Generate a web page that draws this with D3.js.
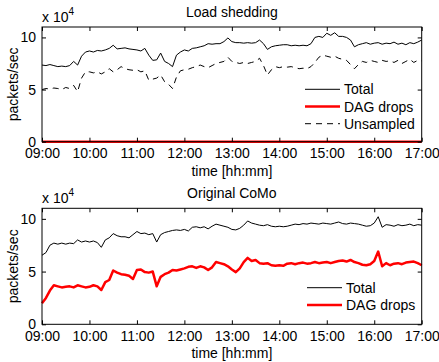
<!DOCTYPE html>
<html><head><meta charset="utf-8">
<script src="https://cdn.jsdelivr.net/npm/d3@7/dist/d3.min.js"></script>
<style>
body{margin:0;background:#fff;}
svg{display:block;}
text{font-family:"Liberation Sans",Arial,Helvetica,sans-serif;fill:#000;}
</style></head>
<body><svg id="c" width="439" height="362"></svg>
<script>
// time in hours after 09:00, 5-minute sampling
const hourTicks = [0,1,2,3,4,5,6,7,8];
const tickLabels = ["09:00","10:00","11:00","12:00","13:00","14:00","15:00","16:00","17:00"];
const yTicks = [0,5,10];

// Load shedding (x 10^4 packets/sec)
const lsTotal = [7.35,7.3,7.4,7.3,7.2,7.25,7.2,7.3,7.7,7.35,8.2,8.6,
 8.7,8.6,8.75,8.7,8.8,8.95,9.25,8.9,8.95,9.0,8.9,8.85,8.8,
 8.7,8.95,8.3,7.8,7.85,8.5,7.7,7.5,7.2,8.3,
 8.6,8.8,8.7,8.95,9.0,9.1,9.2,9.4,9.35,9.4,
 9.4,9.6,9.95,9.6,9.5,9.5,9.45,9.5,9.45,9.5,
 9.75,9.4,8.85,9.1,9.2,9.25,9.3,9.3,9.2,9.25,
 9.2,9.25,9.2,9.4,10.0,10.1,10.0,10.4,10.2,10.45,10.1,10.1,10.0,9.75,
 9.1,9.3,9.4,9.5,9.35,9.45,9.5,9.35,9.45,9.4,
 9.55,9.35,9.45,9.3,9.5,9.4,9.55,9.75];
const lsDrops = [0,0,0,0,0,0,0,0,0,0,0,0,0,0,0,0,0,0,0,0,0,0,0,0,0,
 0,0,0,0,0,0,0,0,0,0,0,0,0,0,0,0,0,0,0,0,0,0,0,0,0,
 0,0,0,0,0,0,0,0,0,0,0,0,0,0,0,0,0,0,0,0,0,0,0,0,0,
 0,0,0,0,0,0,0,0,0,0,0,0,0,0,0,0,0,0,0,0,0,0];
const lsUnsampled = [5.0,5.1,5.05,5.15,5.1,5.0,5.2,5.1,5.4,4.8,6.1,6.7,
 6.7,6.6,6.7,6.5,6.7,7.0,6.7,6.9,7.2,7.0,6.9,6.85,6.9,
 6.7,6.8,5.9,6.0,6.1,6.4,5.75,5.5,5.1,6.2,
 6.8,6.9,6.95,7.1,7.2,7.35,7.2,7.1,7.3,7.5,
 7.6,7.7,8.1,7.7,7.6,7.5,7.6,7.5,7.6,7.7,
 8.0,7.3,6.4,6.9,7.2,7.1,7.2,7.15,7.2,7.1,
 7.0,7.05,7.0,7.2,7.6,8.1,8.3,8.2,8.1,8.2,8.0,7.9,7.8,7.4,
 7.0,7.4,7.7,7.6,7.8,7.7,7.6,7.8,7.7,7.75,
 7.6,7.8,7.5,7.7,7.9,7.6,7.8,7.75];

// Original CoMo (x 10^4 packets/sec)
const ocTotal = [6.55,6.8,7.5,7.7,7.6,7.7,7.6,7.7,7.65,8.0,7.8,7.9,7.8,7.9,
 7.75,7.3,8.0,8.2,8.6,8.4,8.3,8.3,8.2,8.5,8.8,8.6,8.65,8.5,8.6,
 7.8,8.5,8.7,8.8,8.9,8.95,8.9,9.0,8.85,9.2,9.25,9.15,9.25,9.05,9.3,
 9.5,9.4,9.3,9.2,9.0,8.95,9.1,9.4,9.8,9.6,9.5,9.4,9.35,9.45,9.3,
 9.25,9.3,9.25,9.3,9.4,9.5,9.45,9.55,9.5,9.6,9.55,9.5,9.6,9.55,9.5,
 9.6,9.7,9.55,9.5,9.6,9.55,9.5,9.4,9.3,9.35,9.6,10.2,9.2,9.45,9.4,
 9.3,9.45,9.35,9.4,9.5,9.35,9.45,9.4];
const ocDrops = [2.0,2.5,3.2,3.7,3.6,3.5,3.55,3.6,3.5,3.7,3.6,3.5,3.55,3.7,
 3.6,3.25,4.0,4.2,5.1,4.9,4.75,4.7,4.6,4.3,5.15,5.2,4.95,4.9,5.0,
 3.6,4.5,4.75,4.9,5.15,5.1,5.2,5.3,5.45,5.5,5.35,5.5,5.4,5.15,5.4,
 5.9,5.8,5.7,5.5,5.2,4.95,5.3,5.9,6.3,6.0,6.1,5.8,5.75,5.8,5.6,
 5.55,5.6,5.55,5.75,5.8,5.7,5.8,5.85,5.75,5.8,5.9,5.8,5.85,5.9,5.8,
 5.9,6.0,6.05,5.95,6.1,5.9,5.8,5.65,5.6,5.7,6.0,6.9,5.5,5.8,5.6,
 5.75,5.8,5.7,5.85,5.9,5.95,5.8,5.6];

const times = lsTotal.map((d,i)=>i*5/60);

const svg = d3.select("#c");
const X0 = 42, X1 = 421.7;

function panel(cfg){
  const x = d3.scaleLinear().domain([0,8]).range([X0,X1]);
  const y = d3.scaleLinear().domain([0,11]).range([cfg.bottom,cfg.top]);
  const g = svg.append("g");
  const line = d3.line().x((d,i)=>x(times[i])).y(d=>y(d));

  cfg.series.forEach(s=>{
    g.append("path").datum(s.values).attr("d",line)
      .attr("fill","none").attr("stroke",s.color).attr("stroke-width",s.width)
      .attr("stroke-dasharray",s.dash||null).attr("stroke-linejoin","round");
  });

  const tl = 4;
  const xb = d3.axisBottom(x).tickValues(hourTicks).tickFormat((d,i)=>tickLabels[i]).tickSizeInner(-tl).tickSizeOuter(0).tickPadding(6.5);
  const xt = d3.axisTop(x).tickValues(hourTicks).tickFormat("").tickSizeInner(-tl).tickSizeOuter(0);
  const yl = d3.axisLeft(y).tickValues(yTicks).tickSizeInner(-tl).tickSizeOuter(0).tickPadding(6);
  const yr = d3.axisRight(y).tickValues(yTicks).tickFormat("").tickSizeInner(-tl).tickSizeOuter(0);
  [[xb,`translate(0,${cfg.bottom})`],[xt,`translate(0,${cfg.top})`],[yl,`translate(${X0},0)`],[yr,`translate(${X1},0)`]].forEach(([a,t])=>{
    const ax = g.append("g").attr("transform",t).call(a);
    ax.select(".domain").remove();
    ax.selectAll("line").attr("stroke","#000").attr("stroke-width",1);
    ax.selectAll("text").style("font-size","14px").style("font-family",'"Liberation Sans",Arial,sans-serif').attr("fill","#000");
  });
  g.append("rect").attr("x",X0).attr("y",cfg.top).attr("width",X1-X0).attr("height",cfg.bottom-cfg.top)
    .attr("fill","none").attr("stroke","#000").attr("stroke-width",1);

  g.append("text").attr("x",(X0+X1)/2).attr("y",cfg.top-10).attr("text-anchor","middle").style("font-size","14px").text(cfg.title);
  const ex = g.append("text").attr("x",X0).attr("y",cfg.top-5).style("font-size","14px");
  ex.append("tspan").text("x 10");
  ex.append("tspan").attr("dy",-7).style("font-size","10px").text("4");
  g.append("text").attr("transform",`translate(18,${(cfg.top+cfg.bottom)/2}) rotate(-90)`)
    .attr("text-anchor","middle").style("font-size","14px").text("packets/sec");
  g.append("text").attr("x",(X0+X1)/2).attr("y",cfg.bottom+34).attr("text-anchor","middle").style("font-size","14px").text("time [hh:mm]");

  cfg.series.forEach((s,i)=>{
    const ly = cfg.legY + i*17.2;
    g.append("line").attr("x1",cfg.legX).attr("x2",cfg.legX+35).attr("y1",ly).attr("y2",ly)
      .attr("stroke",s.color).attr("stroke-width",s.width).attr("stroke-dasharray",s.dash||null);
    g.append("text").attr("x",cfg.legX+39).attr("y",ly+5).style("font-size","14px").text(s.name);
  });
}

panel({top:27,bottom:141.7,title:"Load shedding",legX:305,legY:89.3,
  series:[
    {name:"Total",values:lsTotal,color:"#000",width:1},
    {name:"DAG drops",values:lsDrops,color:"#ff0000",width:2.5},
    {name:"Unsampled",values:lsUnsampled,color:"#000",width:1,dash:"6,5"}
  ]});
panel({top:208.3,bottom:324.3,title:"Original CoMo",legX:307,legY:287.7,
  series:[
    {name:"Total",values:ocTotal,color:"#000",width:1},
    {name:"DAG drops",values:ocDrops,color:"#ff0000",width:2.5}
  ]});
</script></body></html>
